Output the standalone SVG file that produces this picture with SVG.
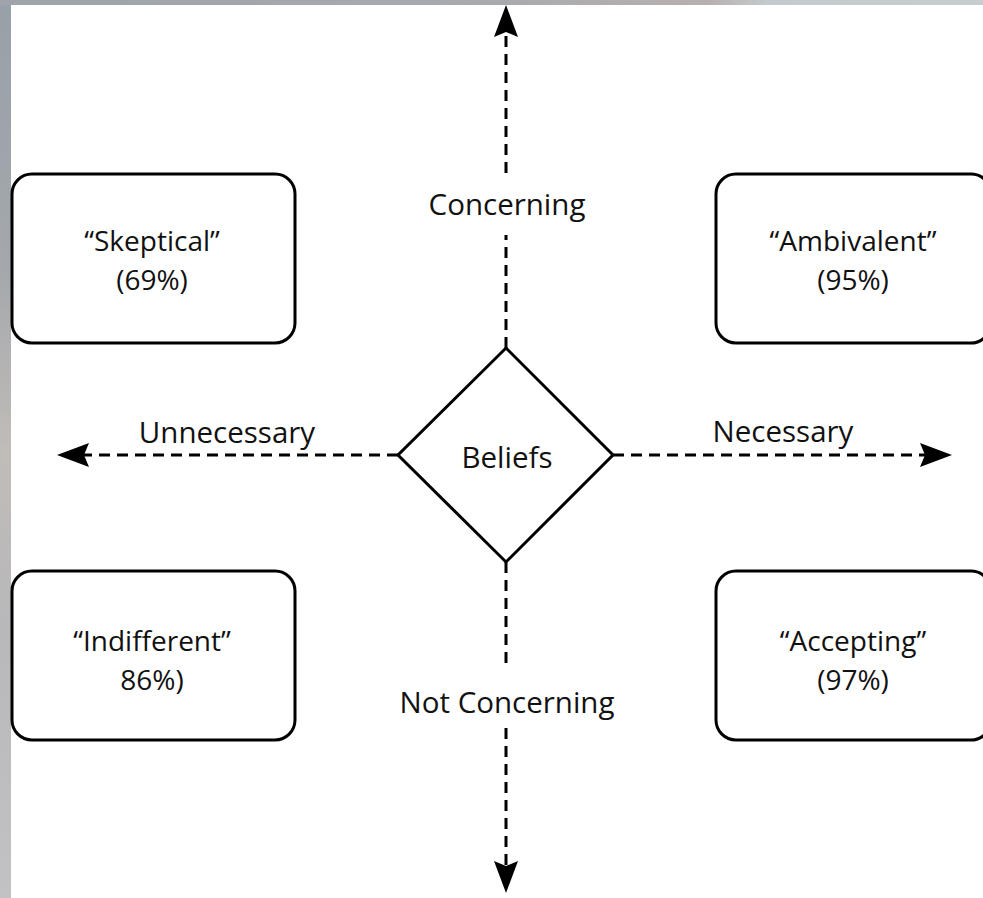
<svg xmlns="http://www.w3.org/2000/svg" width="983" height="898" viewBox="0 0 983 898">
  <defs>
    <linearGradient id="leftStrip" x1="0" y1="0" x2="0" y2="1">
      <stop offset="0" stop-color="#98a0a8"/>
      <stop offset="0.3" stop-color="#a4a8ac"/>
      <stop offset="0.5" stop-color="#c0bcb8"/>
      <stop offset="0.7" stop-color="#b8b8ba"/>
      <stop offset="1" stop-color="#c2c2c4"/>
    </linearGradient>
    <linearGradient id="topStrip" x1="0" y1="0" x2="1" y2="0">
      <stop offset="0" stop-color="#9ea4aa"/>
      <stop offset="0.5" stop-color="#a8aaae"/>
      <stop offset="0.72" stop-color="#b8b0b0"/>
      <stop offset="0.78" stop-color="#c4cacd"/>
      <stop offset="1" stop-color="#c8cdd0"/>
    </linearGradient>
    <marker id="arrow" markerUnits="userSpaceOnUse" markerWidth="34" markerHeight="26" viewBox="0 0 34 26" refX="5" refY="12" orient="auto">
      <path d="M0,0 L32,12 L0,24 L5,12 Z" fill="#000"/>
    </marker>
  </defs>
  <style>
    .box { fill: #fff; stroke: #000; stroke-width: 3; }
    .axis { fill: none; stroke: #000; stroke-width: 3; stroke-dasharray: 11 7; }
    .lbl { font-family: "Open Sans", "Noto Sans", "DejaVu Sans", sans-serif; font-size: 29.5px; fill: #111; text-anchor: middle; }
    .bt { font-family: "Open Sans", "Noto Sans", "DejaVu Sans", sans-serif; font-size: 28px; fill: #111; text-anchor: middle; }
  </style>

  <rect x="0" y="0" width="983" height="898" fill="#ffffff"/>
  <rect x="0" y="0" width="11" height="898" fill="url(#leftStrip)"/>
  <rect x="0" y="0" width="983" height="5" fill="url(#topStrip)"/>

  <g id="connectors">
    <line class="axis" x1="506" y1="173" x2="506" y2="32" marker-end="url(#arrow)"/>
    <line class="axis" x1="506" y1="348" x2="506" y2="235"/>
    <line class="axis" x1="506" y1="562" x2="506" y2="668"/>
    <line class="axis" x1="506" y1="728" x2="506" y2="866" marker-end="url(#arrow)"/>
    <line class="axis" x1="398" y1="455" x2="84" y2="455" marker-end="url(#arrow)"/>
    <line class="axis" x1="613" y1="455" x2="925" y2="455" marker-end="url(#arrow)"/>
  </g>

  <g id="label-concerning"><text class="lbl" x="507" y="215">Concerning</text></g>
  <g id="label-not-concerning"><text class="lbl" x="507" y="713">Not Concerning</text></g>
  <g id="label-unnecessary"><text class="lbl" x="227" y="443">Unnecessary</text></g>
  <g id="label-necessary"><text class="lbl" x="783" y="442">Necessary</text></g>

  <g id="beliefs">
    <polygon class="box" points="506,348 613,455 506,562 398,455"/>
    <text class="lbl" x="507" y="468">Beliefs</text>
  </g>

  <g id="skeptical">
    <rect class="box" x="12" y="174" width="283" height="169" rx="20" ry="20"/>
    <text class="bt" x="152" y="251">“Skeptical”</text>
    <text class="bt" x="152" y="290">(69%)</text>
  </g>

  <g id="ambivalent">
    <rect class="box" x="716" y="174" width="275" height="169" rx="20" ry="20"/>
    <text class="bt" x="853" y="251">“Ambivalent”</text>
    <text class="bt" x="853" y="290">(95%)</text>
  </g>

  <g id="indifferent">
    <rect class="box" x="12" y="571" width="283" height="169" rx="20" ry="20"/>
    <text class="bt" x="152" y="651">“Indifferent”</text>
    <text class="bt" x="152" y="690">86%)</text>
  </g>

  <g id="accepting">
    <rect class="box" x="716" y="571" width="275" height="169" rx="20" ry="20"/>
    <text class="bt" x="853" y="651">“Accepting”</text>
    <text class="bt" x="853" y="690">(97%)</text>
  </g>
</svg>
